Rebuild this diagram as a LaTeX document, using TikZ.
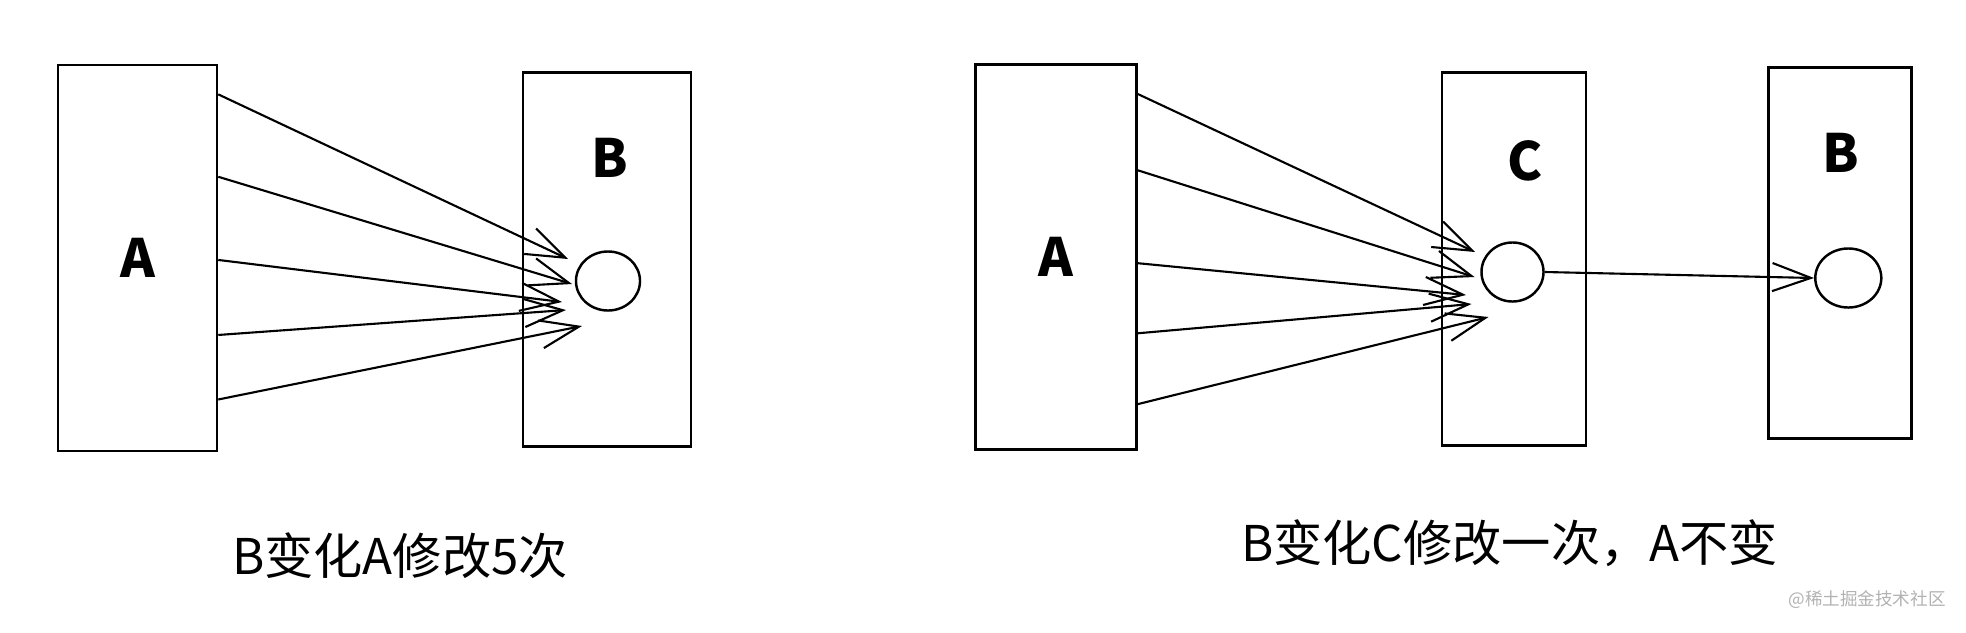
\documentclass[tikz,border=0pt]{standalone}
\usepackage{fontspec}
\usepackage{tikz}
\usetikzlibrary{arrows.meta,calc,shapes.geometric}
\newfontfamily\cjk{Noto Sans CJK SC}
\tikzset{
Boite/.style={
 draw=black, 
 line width=0.7pt, 
 inner sep=0pt
 },
Rond/.style={
 ellipse, 
 draw=black, 
 line width=0.7pt, 
 minimum width=0.64cm, 
 minimum height=0.59cm, 
 inner sep=0pt
 },
Fleche/.style={
 draw=black, 
 line width=0.6pt, 
 -{Straight Barb[length=11pt,width=8pt]}
 },
Lettre/.style={
 font=\cjk\bfseries\fontsize{15}{17}\selectfont
 },
Legende/.style={
 font=\cjk\fontsize{14}{16}\selectfont
 },
Marque/.style={
 text=black!30, 
 font=\cjk\fontsize{5}{6}\selectfont
 }
}

\begin{document}
\begin{tikzpicture}[x=0.01cm,y=0.01cm]
\useasboundingbox (0,0) rectangle (1966,632);
% avant : A vers B
\node[Boite,Lettre,minimum width=1.59cm,minimum height=3.86cm] (A) at (137.5,374) {A};
\node[Boite,minimum width=1.675cm,minimum height=3.74cm] (B) at (607,372.5) {};
\node[Lettre] (nB) at (610,474) {B};
\node[Rond] (rB) at (608,351) {};
\draw[Fleche] ($(A.north east)!0.079!(A.south east)$) -- ($(rB)+(-40,22)$);
\draw[Fleche] ($(A.north east)!0.291!(A.south east)$) -- ($(rB)+(-36,-3)$);
\draw[Fleche] ($(A.north east)!0.505!(A.south east)$) -- ($(rB)+(-46,-21)$);
\draw[Fleche] ($(A.north east)!0.698!(A.south east)$) -- ($(rB)+(-42,-29)$);
\draw[Fleche] ($(A.north east)!0.864!(A.south east)$) -- ($(rB)+(-26,-45)$);
\node[Legende] (t1) at (400,76) {B变化A修改5次};
% apres : A vers C vers B
\node[Boite,Lettre,minimum width=1.61cm,minimum height=3.845cm] (A2) at (1056,375) {A};
\node[Boite,minimum width=1.44cm,minimum height=3.725cm] (C) at (1514,373) {};
\node[Lettre] (nC) at (1525,471) {C};
\node[Rond,minimum width=0.62cm] (rC) at (1512.5,360) {};
\node[Boite,minimum width=1.43cm,minimum height=3.71cm] (B2) at (1840,379) {};
\node[Lettre] (nB2) at (1840.5,479) {B};
\node[Rond,minimum width=0.66cm] (rB2) at (1848.3,354) {};
\draw[Fleche] ($(A2.north east)!0.079!(A2.south east)$) -- ($(rC)+(-37.5,20)$);
\draw[Fleche] ($(A2.north east)!0.276!(A2.south east)$) -- ($(rC)+(-38,-5)$);
\draw[Fleche] ($(A2.north east)!0.516!(A2.south east)$) -- ($(rC)+(-46.5,-23)$);
\draw[Fleche] ($(A2.north east)!0.697!(A2.south east)$) -- ($(rC)+(-41,-32)$);
\draw[Fleche] ($(A2.north east)!0.880!(A2.south east)$) -- ($(rC)+(-24,-45)$);
\draw[Fleche] (rC.east) -- (rB2.west);
\node[Legende] (t2) at (1509.5,89) {B变化C修改一次，A不变};
\node[Marque] (wm) at (1867,32) {@稀土掘金技术社区};
\end{tikzpicture}
\end{document}
